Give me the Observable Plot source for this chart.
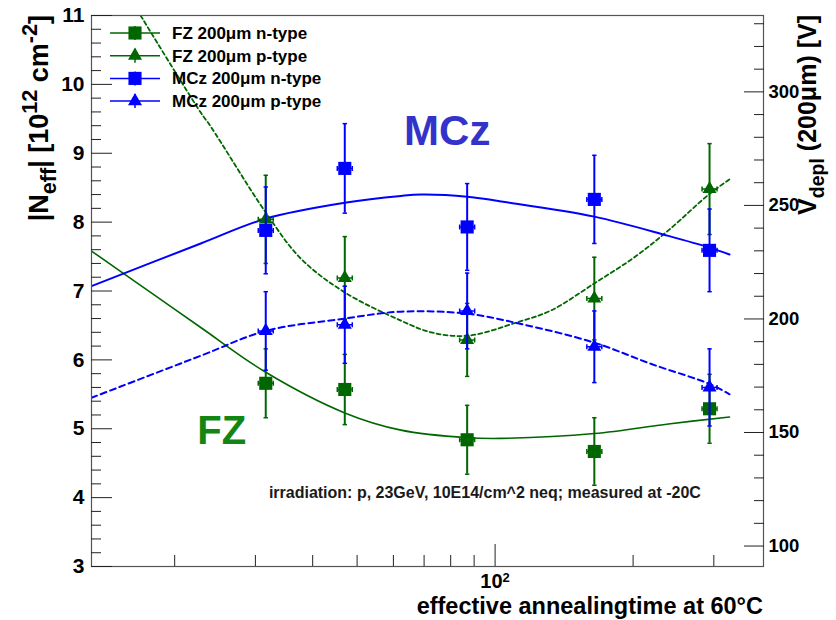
<!DOCTYPE html>
<html><head><meta charset="utf-8">
<script src="https://cdn.jsdelivr.net/npm/d3@7"></script>
<script src="https://cdn.jsdelivr.net/npm/@observablehq/plot@0.6"></script>
<style>body{margin:0;background:#fff}svg{display:block}</style>
</head><body><div id="chart"></div>
<script>
// ---- data ----
const times = [31.6, 47.0, 86.9, 164.6, 293.6];           // effective annealing time at 60°C
const fzN = [5.66, 5.57, 4.84, 4.67, 5.29];
const fzNErr = [0.50, 0.51, 0.50, 0.49, 0.50];
const fzP = [8.04, 7.19, 6.29, 6.89, 8.48];
const fzPErr = [0.64, 0.60, 0.53, 0.60, 0.66];
const mczN = [7.88, 8.78, 7.93, 8.33, 7.59];
const mczNErr = [0.63, 0.65, 0.63, 0.64, 0.60];
const mczP = [6.42, 6.51, 6.71, 6.19, 5.60];
const mczPErr = [0.57, 0.56, 0.55, 0.52, 0.56];

// fit curves
const fzNFitX = [13.17, 17.72, 22.8, 31.6, 47.0, 62.3, 86.9, 103.1, 164.6, 238.8, 324.6];
const fzNFitY = [7.58, 6.98, 6.47, 5.82, 5.23, 4.98, 4.87, 4.86, 4.93, 5.07, 5.17];
const fzPFitX = [16.85, 22.8, 23.96, 31.6, 37.7, 47.0, 62.3, 72.5, 86.9, 112.3, 132.6, 164.6, 201.3, 238.8, 293.6, 324.6];
const fzPFitY = [11.0, 9.59, 9.39, 8.14, 7.47, 6.98, 6.57, 6.40, 6.35, 6.55, 6.72, 7.11, 7.49, 7.88, 8.41, 8.62];
const mczNFitX = [13.17, 22.8, 31.6, 47.0, 62.3, 68.9, 86.9, 103.1, 164.6, 238.8, 293.6, 324.6];
const mczNFitY = [7.07, 7.69, 8.05, 8.28, 8.38, 8.40, 8.37, 8.30, 8.08, 7.80, 7.63, 7.53];
const mczPFitX = [13.17, 22.8, 31.6, 47.0, 62.3, 86.9, 114.0, 164.6, 219.2, 293.6, 324.6];
const mczPFitY = [5.45, 6.06, 6.42, 6.60, 6.70, 6.67, 6.52, 6.25, 5.94, 5.65, 5.50];

const seriesNames = ["FZ 200\u03bcm n-type", "FZ 200\u03bcm p-type", "MCz 200\u03bcm n-type", "MCz 200\u03bcm p-type"];
const yMajor = [3, 4, 5, 6, 7, 8, 9, 10, 11];
const vMajor = [100, 150, 200, 250, 300];
const xMajor = [100];
const xMinor = [20, 30, 40, 50, 60, 70, 80, 90, 200, 300];
const voltsPerUnit = 30.33; // V_depl(200um) per 1e12 cm^-2

// ---- styling ----
const GREEN = "#006600", BLUE = "#0000ff";
const series = [
  {name: seriesNames[0], y: fzN, e: fzNErr, fx: fzNFitX, fy: fzNFitY, color: GREEN, symbol: "square", r: 7.4, dash: null, fitW: 1.6},
  {name: seriesNames[1], y: fzP, e: fzPErr, fx: fzPFitX, fy: fzPFitY, color: GREEN, symbol: "triangle", r: 5.2, dash: "4,3", fitW: 1.8},
  {name: seriesNames[2], y: mczN, e: mczNErr, fx: mczNFitX, fy: mczNFitY, color: BLUE, symbol: "square", r: 7.4, dash: null, fitW: 2},
  {name: seriesNames[3], y: mczP, e: mczPErr, fx: mczPFitX, fy: mczPFitY, color: BLUE, symbol: "triangle", r: 5.2, dash: "6,4", fitW: 2}
];

const capSymbol = {draw(ctx, size) { const r = Math.sqrt(size / Math.PI); ctx.moveTo(-r, 0); ctx.lineTo(r, 0); }};
const xErrSymbol = {draw(ctx, size) { const r = Math.sqrt(size / Math.PI);
  ctx.moveTo(-r, 0); ctx.lineTo(r, 0);
  ctx.moveTo(-r, -2.5); ctx.lineTo(-r, 2.5); ctx.moveTo(r, -2.5); ctx.lineTo(r, 2.5); }};

const marks = [];
for (const s of series) {
  const fit = s.fx.map((x, i) => ({x, y: s.fy[i]}));
  marks.push(Plot.line(fit, {x: "x", y: "y", stroke: s.color, strokeWidth: s.fitW, strokeDasharray: s.dash, curve: "catmull-rom", clip: true}));
}
for (const s of series) {
  const pts = times.map((t, i) => ({x: t, y: s.y[i], lo: s.y[i] - s.e[i], hi: s.y[i] + s.e[i]}));
  marks.push(
    Plot.ruleX(pts, {x: "x", y1: "lo", y2: "hi", stroke: s.color, strokeWidth: 2}),
    Plot.dot(pts, {x: "x", y: "lo", symbol: capSymbol, r: 2.2, stroke: s.color, strokeWidth: 1.5}),
    Plot.dot(pts, {x: "x", y: "hi", symbol: capSymbol, r: 2.2, stroke: s.color, strokeWidth: 1.5}),
    Plot.dot(pts, {x: "x", y: "y", symbol: xErrSymbol, r: 7.5, stroke: s.color, strokeWidth: 1.5}),
    Plot.dot(pts, {x: "x", y: "y", symbol: s.symbol, r: s.r, fill: s.color, stroke: "none"})
  );
}

const annotations = [
  {text: "MCz", x: 63.3, y: 9.32, color: "#3333cc", size: 42},
  {text: "FZ", x: 22.4, y: 4.96, color: "#128512", size: 40},
  {text: "irradiation: p, 23GeV, 10E14/cm^2 neq; measured at -20C", x: 32.1, y: 4.07, color: "#1a1a1a", size: 16}
];
for (const a of annotations) {
  marks.push(Plot.text([a], {x: "x", y: "y", text: "text", fill: a.color, fontSize: a.size, fontWeight: "bold", textAnchor: "start"}));
}

const yMinor = d3.range(3, 11.0001, 0.2).filter(v => Math.abs(v - Math.round(v)) > 1e-6);
const vMinor = d3.range(100, 331, 10).filter(v => v % 50 !== 0);
const TICK = "#222";
marks.push(
  Plot.frame({stroke: "#555", strokeWidth: 1.2}),
  Plot.axisY({anchor: "left", ticks: yMajor, tickSize: -21, text: null, label: null, stroke: TICK}),
  Plot.axisY({anchor: "left", ticks: yMinor, tickSize: -10, text: null, label: null, stroke: TICK}),
  Plot.axisY({anchor: "left", ticks: yMajor, tickSize: 0, tickPadding: 7, label: null, fontSize: 21, fontWeight: "bold", fill: "#000", tickFormat: d => String(d)}),
  Plot.axisY({anchor: "right", ticks: vMajor.map(v => v / voltsPerUnit), tickSize: -20, text: null, label: null, stroke: TICK}),
  Plot.axisY({anchor: "right", ticks: vMinor.map(v => v / voltsPerUnit), tickSize: -10, text: null, label: null, stroke: TICK}),
  Plot.axisY({anchor: "right", ticks: vMajor.map(v => v / voltsPerUnit), tickSize: 0, tickPadding: 5, label: null, fontSize: 18.5, fontWeight: "bold", fill: "#000", tickFormat: d => String(Math.round(d * voltsPerUnit / 10) * 10)}),
  Plot.axisX({anchor: "bottom", ticks: xMinor, tickSize: -11, text: null, label: null, stroke: TICK}),
  Plot.axisX({anchor: "bottom", ticks: xMajor, tickSize: -22, text: null, label: null, stroke: TICK}),
  Plot.axisX({anchor: "bottom", ticks: xMajor, tickSize: 0, tickPadding: 7, label: null, fontSize: 20, fontWeight: "bold", fill: "#000", tickFormat: () => "10"})
);

const plot = Plot.plot({
  width: 836, height: 620,
  marginLeft: 91, marginRight: 73, marginTop: 15, marginBottom: 54,
  x: {type: "log", domain: [13.17, 385], axis: null},
  y: {domain: [3, 11], axis: null},
  style: {fontFamily: "'Liberation Sans', Arial, Helvetica, sans-serif", background: "white", overflow: "visible"},
  marks
});
document.getElementById("chart").appendChild(plot);

const svg = d3.select(plot);
// superscript on the 10^2 tick label
svg.selectAll("text").filter(function() {
  return this.textContent === "10" && this.closest('g[aria-label^="x-axis"]');
}).each(function() {
  d3.select(this).append("tspan").attr("dy", "-0.45em").attr("font-size", "65%").text("2");
});

const FONT = "'Liberation Sans', Arial, Helvetica, sans-serif";
function richText(g, parts, size, k) {
  for (const p of parts) {
    const ts = g.append("tspan").text(p.t);
    if (p.s) ts.attr("font-size", size * k).attr("dy", p.s === "sub" ? size * 0.3 : -size * 0.42);
    if (p.back) ts.attr("dy", p.back);
  }
}
// left title
{
  const size = 27;
  const t = svg.append("text").attr("transform", "translate(48,15) rotate(-90)").attr("text-anchor", "end")
    .attr("font-family", FONT).attr("font-weight", "bold").attr("font-size", size).attr("fill", "#000");
  richText(t, [{t: "|N"}, {t: "eff", s: "sub"}, {t: "| [10", back: -size * 0.3}, {t: "12", s: "sup"}, {t: " cm", back: size * 0.42}, {t: "-2", s: "sup"}, {t: "]", back: size * 0.42}], size, 0.8);
}
// right title
{
  const size = 25;
  const t = svg.append("text").attr("transform", "translate(816,15) rotate(-90)").attr("text-anchor", "end")
    .attr("font-family", FONT).attr("font-weight", "bold").attr("font-size", size).attr("fill", "#000");
  richText(t, [{t: "V"}, {t: "depl", s: "sub"}, {t: " (200\u03bcm) [V]", back: -size * 0.3}], size, 0.78);
}
// x title
svg.append("text").attr("x", 763).attr("y", 614).attr("text-anchor", "end")
  .attr("font-family", FONT).attr("font-weight", "bold").attr("font-size", 23.5).attr("fill", "#000")
  .text("effective annealingtime at 60\u00b0C");

// legend
const legend = svg.append("g");
series.forEach((s, i) => {
  const cy = 33 + i * 22.7;
  legend.append("line").attr("x1", 110).attr("x2", 160).attr("y1", cy).attr("y2", cy).attr("stroke", s.color).attr("stroke-width", 1.5);
  legend.append("line").attr("x1", 135).attr("x2", 135).attr("y1", cy - 7).attr("y2", cy + 7).attr("stroke", s.color).attr("stroke-width", 1.5);
  const sym = s.symbol === "square" ? d3.symbolSquare : d3.symbolTriangle;
  legend.append("path").attr("d", d3.symbol(sym, Math.PI * s.r * s.r)()).attr("transform", `translate(135,${cy})`).attr("fill", s.color);
  legend.append("text").attr("x", 172).attr("y", cy + 6).attr("text-anchor", "start").attr("font-family", FONT).attr("font-weight", "bold")
    .attr("font-size", 17).attr("fill", "#000").text(s.name);
});
</script>
</body></html>
